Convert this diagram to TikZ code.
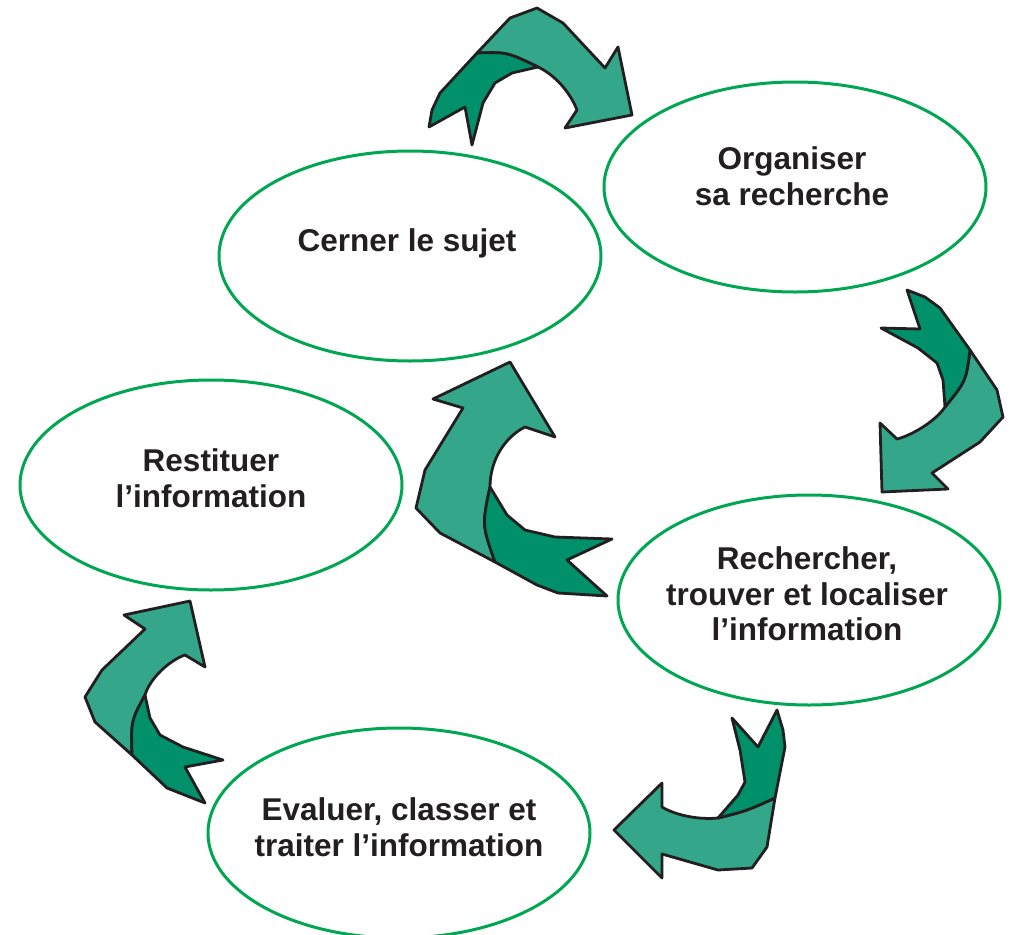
\documentclass[tikz,border=0pt]{standalone}
\usepackage{fontspec}
\setmainfont{Liberation Sans}
\usepackage{tikz}
\usetikzlibrary{shapes.geometric}

\definecolor{ovalgreen}{RGB}{0,166,81}
\definecolor{lightteal}{RGB}{52,166,138}
\definecolor{darkteal}{RGB}{0,144,106}
\definecolor{inkgray}{RGB}{35,31,32}

\begin{document}
\begin{tikzpicture}[x=1pt, y=-1pt, line join=round,
    oval/.style={ellipse, draw=ovalgreen, line width=3pt, fill=white,
      minimum width=382pt, minimum height=210pt, inner sep=0pt},
    lbl/.style={align=center, text=inkgray, inner sep=0pt,
      font=\fontsize{31.5}{35.5}\selectfont\bfseries},
    light/.style={fill=lightteal, draw=inkgray, line width=2.8pt},
    dark/.style={fill=darkteal, draw=inkgray, line width=2.8pt}]
  \useasboundingbox (0,0) rectangle (1013,935);

  % The five steps
  \node[oval] (cerner) at (410,256) {};
  \node[oval] (organiser) at (795,187) {};
  \node[oval] (restituer) at (211,485) {};
  \node[oval] (rechercher) at (809,600) {};
  \node[oval] (evaluer) at (399,833) {};

  \node[lbl] (cernertxt) at (407,243) {Cerner le sujet};
  \node[lbl] (organisertxt) at (792,176) {Organiser\\sa recherche};
  \node[lbl] (restituertxt) at (211,478) {Restituer\\l’information};
  \node[lbl] (recherchertxt) at (807,594) {Rechercher,\\trouver et localiser\\l’information};
  \node[lbl] (evaluertxt) at (399,827) {Evaluer, classer et\\traiter l’information};

  % Top arrow
  \coordinate (A1) at (477,53);
  \coordinate (A2) at (538,67);
  \draw[light] (A1) -- (510,18) -- (537,8) -- (563,23) -- (605,68) -- (618,47)
    -- (632,115) -- (565,128) -- (577,110) .. controls (570,92) and (555,75) .. (A2)
    .. controls (507,52) .. (A1) -- cycle;
  \draw[dark] (A1) .. controls (507,52) .. (A2) -- (512,73) -- (495,83) -- (483,103)
    -- (472,145) -- (465,107) -- (429,127) -- (432,110) -- (440,93) -- cycle;

  % Right arrow
  \coordinate (B1) at (970,350);
  \coordinate (B2) at (945,407);
  \draw[light] (B1) -- (997,390) -- (1003,417) -- (980,442) -- (932,473) -- (948,489)
    -- (882,492) -- (880,423) -- (897,439) .. controls (910,436) and (935,422) .. (B2)
    .. controls (966,381) .. (B1) -- cycle;
  \draw[dark] (B1) -- (940,308) -- (925,297) -- (907,290) -- (920,329) -- (881,328)
    -- (918,348) -- (937,363) -- (943,380) -- (B2) .. controls (966,381) .. (B1) -- cycle;

  % Centre arrow
  \coordinate (C1) at (495,562);
  \coordinate (C2) at (490,487);
  \draw[light] (C1) -- (440,533) -- (416,508) -- (425,470) -- (463,408) -- (433,399)
    -- (510,362) -- (555,437) -- (525,427) .. controls (505,437) and (490,460) .. (C2)
    .. controls (482,525) .. (C1) -- cycle;
  \draw[dark] (C2) .. controls (482,525) .. (C1) -- (537,585) -- (558,593) -- (607,596)
    -- (567,560) -- (612,539) -- (555,537) -- (525,530) -- (507,515) -- cycle;

  % Bottom arrow
  \coordinate (D1) at (775,798);
  \coordinate (D2) at (718,818);
  \draw[light] (D1) -- (767,847) -- (752,868) -- (718,870) -- (662,854) -- (662,878)
    -- (614,830) -- (662,783) -- (662,807) .. controls (675,815) and (698,820) .. (D2)
    .. controls (746,811) .. (D1) -- cycle;
  \draw[dark] (D1) -- (785,747) -- (783,730) -- (777,710) -- (758,747) -- (732,718)
    -- (740,750) -- (745,782) -- (738,795) -- (D2) .. controls (746,811) .. (D1) -- cycle;

  % Left arrow
  \coordinate (E1) at (132,755);
  \coordinate (E2) at (145,695);
  \draw[light] (E1) -- (95,722) -- (85,697) -- (102,670) -- (145,629) -- (124,615)
    -- (190,601) -- (205,667) -- (185,655) .. controls (170,660) and (150,678) .. (E2)
    .. controls (131,721) .. (E1) -- cycle;
  \draw[dark] (E2) .. controls (131,721) .. (E1) -- (167,788) -- (205,803) -- (185,767)
    -- (223,760) -- (183,747) -- (160,735) -- (150,718) -- cycle;
\end{tikzpicture}
\end{document}
